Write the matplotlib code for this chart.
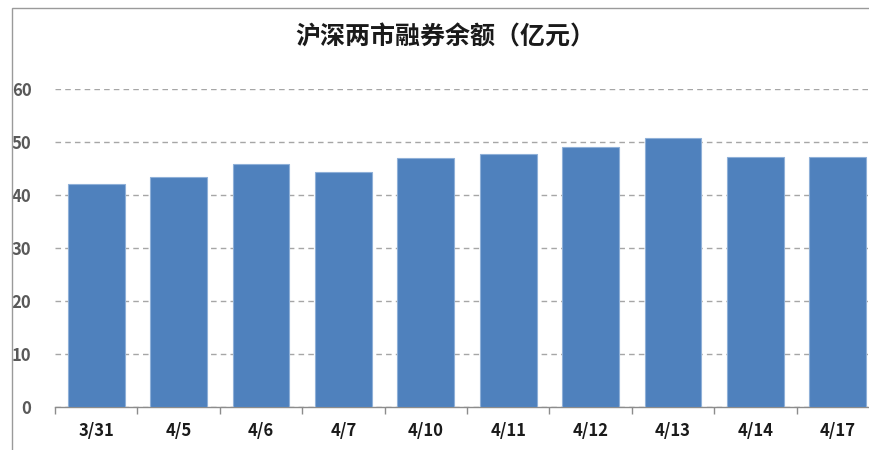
import matplotlib
matplotlib.use("Agg")
import matplotlib.pyplot as plt
from matplotlib.patches import Rectangle

plt.rcParams['font.family'] = ['Noto Sans CJK SC', 'DejaVu Sans']

categories = ["3/31", "4/5", "4/6", "4/7", "4/10", "4/11", "4/12", "4/13", "4/14", "4/17"]
values = [42.1, 43.4, 45.8, 44.3, 47.0, 47.7, 49.1, 50.8, 47.2, 47.2]
yticks = [0, 10, 20, 30, 40, 50, 60]
title = "沪深两市融券余额（亿元）"

W, H = 870, 450
fig = plt.figure(figsize=(8.7, 4.5), dpi=100)
fig.patch.set_facecolor("white")

# chart frame (extends beyond right edge like the reference crop)
fig.patches.append(Rectangle((12 / W, -0.2), 1.2, 1 - 8 / H + 0.2, transform=fig.transFigure,
                             fill=False, edgecolor="#9a9a9a", linewidth=1.0))

ax = fig.add_axes([55 / W, 1 - 407 / H, 824 / W, (407 - 89) / H])
x = range(len(categories))
ax.bar(x, values, width=0.69, color="#4F81BD", edgecolor="#8fb0d8", linewidth=0.8, zorder=3)
ax.set_xlim(-0.5, len(categories) - 0.5)
ax.set_ylim(0, 60)
ax.set_yticks(yticks)
ax.set_yticklabels([str(v) for v in yticks], fontsize=12, color="#595959", fontweight="bold")
ax.tick_params(axis="y", length=0, pad=17)
ax.set_xticks(list(x))
ax.set_xticklabels(categories, fontsize=12, fontweight="bold", color="#1a1a1a")
ax.set_xticks([i - 0.5 for i in range(len(categories) + 1)], minor=True)
ax.tick_params(axis="x", which="major", length=0, pad=11)
ax.tick_params(axis="x", which="minor", length=5, color="#8c8c8c", width=1)
for s in ["top", "right", "left"]:
    ax.spines[s].set_visible(False)
ax.spines["bottom"].set_color("#8c8c8c")
ax.spines["bottom"].set_linewidth(1)
ax.grid(axis="y", linestyle=(0, (4, 3)), color="#a6a6a6", linewidth=1, zorder=0)
ax.set_axisbelow(True)

fig.text(445 / W, 1 - 37 / H, title, ha="center", va="center", fontsize=18, fontweight="bold",
         color="#1a1a1a")

fig.savefig("out.png", dpi=100, facecolor="white")
